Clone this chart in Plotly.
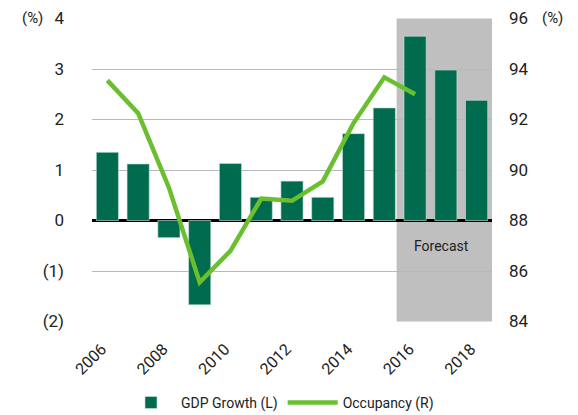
import plotly.graph_objects as go

years = list(range(2006, 2019))
gdp_growth = [1.35, 1.12, -0.34, -1.67, 1.13, 0.46, 0.78, 0.46, 1.72, 2.23, 3.65, 2.98, 2.38]
occ_years = list(range(2006, 2017))
occupancy = [93.55, 92.25, 89.3, 85.55, 86.8, 88.87, 88.78, 89.55, 91.86, 93.67, 93.0]

left_ticks = [-2, -1, 0, 1, 2, 3, 4]
left_labels = ["(2)", "(1)", "0", "1", "2", "3", "4"]
right_ticks = [84, 86, 88, 90, 92, 94, 96]
year_ticks = [2006, 2008, 2010, 2012, 2014, 2016, 2018]

FONT = "Roboto, Inter, sans-serif"
TXT = "#222222"

fig = go.Figure()
fig.add_trace(go.Bar(x=years, y=gdp_growth, name="GDP Growth (L)",
                     marker=dict(color="#006b4e", line=dict(color="#cfe3da", width=0.6)),
                     yaxis="y"))
fig.add_trace(go.Scatter(x=occ_years, y=occupancy, name="Occupancy (R)", mode="lines",
                         line=dict(color="#6abf2e", width=4.5), yaxis="y2"))

fig.add_shape(type="rect", xref="x", yref="y", x0=2015.4, x1=2018.5, y0=-2, y1=4,
              fillcolor="#bfbfbf", line=dict(width=0), layer="below")
fig.add_annotation(x=2016.85, y=-0.5, xref="x", yref="y", text="Forecast", showarrow=False,
                   font=dict(family=FONT, size=14, color=TXT))
fig.add_annotation(x=-72 / 400, y=1, xref="paper", yref="paper", text="(%)", showarrow=False,
                   xanchor="left", yanchor="middle", font=dict(family=FONT, size=15, color=TXT))
fig.add_annotation(x=1 + 48 / 400, y=1, xref="paper", yref="paper", text="(%)", showarrow=False,
                   xanchor="left", yanchor="middle", font=dict(family=FONT, size=15, color=TXT))

fig.update_layout(
    width=570, height=407,
    margin=dict(l=84, r=86, t=10, b=93, autoexpand=False),
    paper_bgcolor="white", plot_bgcolor="white",
    font=dict(family=FONT, size=16, color=TXT),
    bargap=0.28,
    showlegend=True,
    legend=dict(orientation="h", x=0.47, xanchor="center", y=-0.266, yanchor="middle",
                font=dict(family=FONT, size=14, color=TXT), itemwidth=50, bgcolor="rgba(0,0,0,0)"),
    xaxis=dict(range=[2005.5, 2018.5], tickmode="array", tickvals=year_ticks,
               ticktext=[str(y) + "\u00a0\u00a0" for y in year_ticks], tickangle=-45,
               showgrid=False, zeroline=False, showline=False, ticks="",
               tickfont=dict(size=16), ticklabelstandoff=8),
    yaxis=dict(range=[-2.01, 4.01], tickmode="array", tickvals=left_ticks, ticktext=left_labels,
               showgrid=True, gridcolor="#b4b9bd", gridwidth=1, zeroline=True,
               zerolinecolor="black", zerolinewidth=2.5, ticks="", ticklen=0,
               tickfont=dict(size=17), ticklabelstandoff=27, ticklabeloverflow="allow"),
    yaxis2=dict(range=[83.98, 96.02], overlaying="y", side="right", tickmode="array",
                tickvals=right_ticks, showgrid=False, zeroline=False, ticks="",
                tickfont=dict(size=17), ticklabelstandoff=16, ticklabeloverflow="allow"),
)

fig.write_html("out.html")
